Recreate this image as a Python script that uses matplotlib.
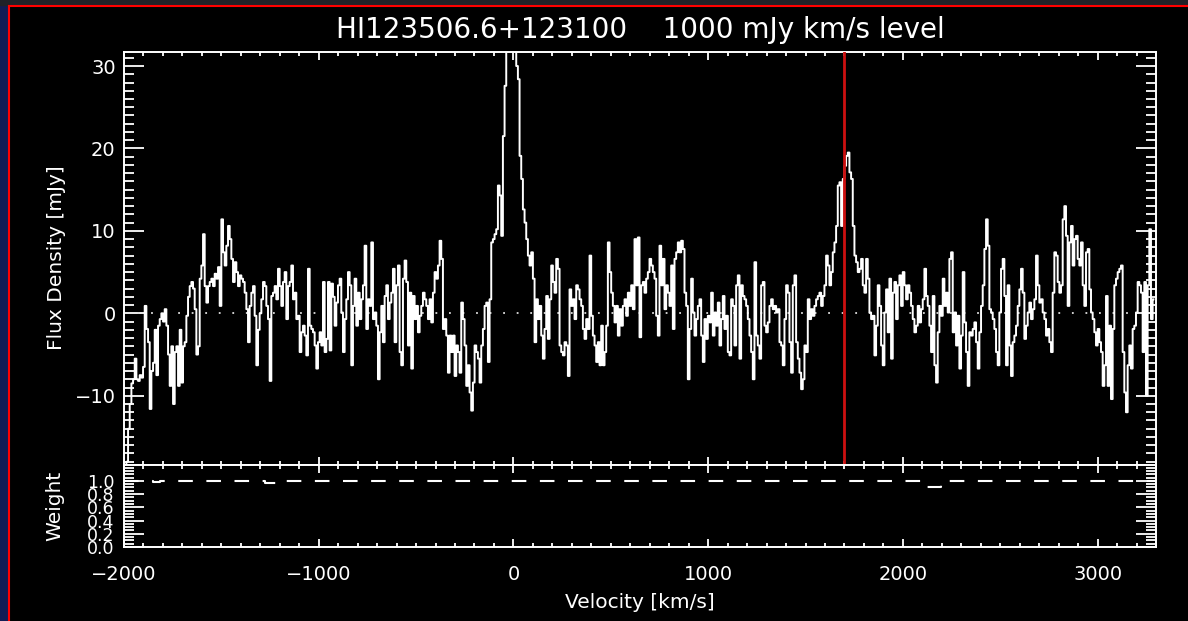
import numpy as np
import matplotlib
matplotlib.use('Agg')
import matplotlib.pyplot as plt
from matplotlib.ticker import MultipleLocator, FormatStrFormatter
from matplotlib.patches import Rectangle
from matplotlib.lines import Line2D

# spectrum (mJy)
flux = [
    -21, -18, -14, -11, -8.5, -8, -5.5, -8, -8.2, -7.5,
    -7.8, -6.5, 0.9, -1.9, -3.5, -11.6, -7, -6, -2, -7.5,
    -1.5, -0.7, 0, -1, 0.5, -1.5, -5, -8.8, -4, -11,
    -4.7, -4, -8.8, -2, -8.4, -4, -3.5, -0.3, 2, 3.3,
    3.8, 3, 0.5, -5, -4, 4.2, 5.8, 9.6, 3.3, 1.3,
    3.3, 3.8, 4.2, 3.3, 4.8, 4.2, 5.6, 0.9, 11.4, 7.4,
    5.8, 8.2, 10.6, 9, 6.6, 3.8, 6.2, 5, 3.3, 4.6,
    4.2, 3.8, 2.5, 0.5, -3.5, 0.9, 2.5, 3.3, -0.3, -6.3,
    -2, 0, 1.7, 3.8, 3.3, 0.9, -0.7, -8.2, 2.1, 2.5,
    3.3, 1.7, 5.4, 3.3, 0.9, 3.8, 5, -0.7, 3.3, 3.8,
    5.8, 1.7, 2.5, -0.7, -0.3, -4.7, -2.3, -1.5, -2.7, -5.1,
    5.4, -1.5, -1.9, -2.3, -3.9, -6.7, -3.5, -2.3, -3.9, 3.8,
    -4.7, -3.1, 3.8,
    -4.5, 3.6, 2.0, -1.5, 1.3, 3.4, 4.2, 0.1, -4.7, -0.7,
    1.7, 5, 3.4, -6.3, 0.9, 4.2, -1.5, 2.5, -0.7, 1.7,
    3.4, 8.2, -1.9, 1.7, 0.9, 8.6, -0.7, 0.1, -1.5, -8,
    -2.3, 0.9, -3.5, 2.1, 3.4, -0.7, 1.3, 2.5, 5.4, -3.5,
    3.4, 5.8, -4.7, -6.3, 4.2, 6.4, 3.8, -3.9, 2.5, -6.7,
    2.1, -0.7, 0.9, -2.3, -0.3, 0.9, 2.5, 1.7, 0.9, -0.7,
    1.7, -1.1, 2.5, 5, 4.2, 5.8, 8.8, 6.6, -1.9, -0.7,
    -2.7, -7.2, -2.7, -4.7, -2.7, -7.6, -3.9, -4.7, -7.2, 1.3,
    -0.7, -3.9, -8.8, -6.3, -9.6, -11.8, -8.4, -3.9, -4.7, -5.5,
    -8.4, -3.9, -1.9, 0.9, 1.3, -5.9, 1.7, 8.6, 9, 9.6,
    10.2, 15.5, 14.3, 9.4, 21.5, 27.6, 40, 50, 55, 52,
    42, 33, 30, 28.4, 19.1, 16.3, 12.6, 11, 9, 7,
    5.8, 7.4, 4.2, -3.5,
    1.7, -0.7, 0.9, -2.7, -5.5, -1.9, 2.1, -3.1, 1.7, 5.8,
    3.8, 2.5, 6.6, 5.4, -3.9, -4.7, -5.1, -3.5, -3.9, -7.6,
    2.9, 0.9, 1.7, -0.7, 3.4, 2.9, 1.7, 0.9, -1.9, -3.1,
    -0.7, -1.9, 7, -0.3, -2.7, -3.9, -5.9, -3.5, -6.3, -1.5,
    -6.3, -4.7, -1.5, 8.6, 5, 2.5, 0.9, -1.1, 0.9, -2.7,
    0.5, -1.5, 0.9, 1.7, -0.3, 2.5, 0.9, 3.4, 0.5, 9,
    3.4, 9.2, -2.9, 3.4, 3.8, 2.5, 4.2, 5, 6.6, 5.8,
    5, 4.2, -0.3, -2.7, 8.2, 3.4, 6.6, 0.5, 3.4, 2.5,
    0.9, 5.8, -1.9, 6.6, 7.4, 8.6, 7.4, 8.8, 7.8, 2.5,
    0.9, -8, -1.9, 4.2, 0.1, -2.7, -0.7, 0.9, 1.7, -2.7,
    -5.9, -0.7, -3.1, -0.3, -1.1, 2.5, -2.7, 0.1, -1.5, 1.3,
    -3.9, -0.7, 2.1, -1.9, -0.3, -4.7, -5.1, 1.7, 0.9, -3.9,
    3.4, 4.6, -5.5, 3.4,
    2.1, 1.7, 0.9, -0.7, -2.7, -4.7, -8, 6.2, -2.7, -3.9,
    -5.5, 3.4, 3.8, -1.5, -2.3, -1.1, 0.9, 1.7, 0.5, 0.9,
    0.1, 0.5, -3.5, -3.9, -6.3, -0.7, 3.4, 2.5, -3.5, -7.2,
    3.4, 4.6, -3.5, -5.5, -7.2, -9.2, -8, -3.9, -4.7, 1.7,
    -0.7, 0.5, -0.3, 0.9, 1.7, 2.1, 2.5, 0.9, 2.1, 3.4,
    7, 5.8, 3.4, 5, 7.4, 8.6, 10.6, 15.5, 15.9, 10.6,
    16.3, 17.9, 19.1, 19.5, 17.1, 16.3, 10.6, 7, 6.2, 5,
    5.4, 6.6, 3.4, 2.5, 6.6, 4.2, 0.1, -0.7, -0.3, -5.1,
    -1.5, 3.4, 0.9, -3.9, -6.3, 0.1, 2.9, -2.3, 4.2, -5.5,
    2.5, 3.8, -0.7, 3.4, 4.6, 0.9, 5, 3.4, 1.7, 3.4,
    2.5, 0.9, -0.7, -2.3, -1.5, 0.9, -1.1, 0.5, 1.7, 5.4,
    2.1, 0.9, -1.5, -4.7, 2.1, -6.3, -8.4, -2.3, 0.9, -0.3,
    4.2, 0.9, 2.5,
    0.1, 6.6, 7.4, -2.3, 0.1, -3.9, -0.3, -6.7, -2.7, 5,
    -1.1, -4.7, -8.8, -2.3, -2.7, -1.9, -1.1, -3.5, -6.7, -2.3,
    0.9, 3.4, 7.8, 11.4, 8.2, 0.5, 0.1, -0.7, -1.9, -4.7,
    -6.3, 0.1, 5.4, 6.6, 2.1, -6.3, 3.4, -3.9, -7.6, -3.5,
    -2.7, -1.5, 0.9, 2.9, 5.4, 2.5, -3.1, -1.5, 0.1, 1.3,
    -0.7, 0.5, 1.7, 7, 3.4, 1.3, 1.7, 0.1, -0.7, -2.7,
    -1.9, -3.5, -4.7, 2.5, 7.4, 7, 3.8, 2.5, 3.4, 11.4,
    13, 9.4, 0.9, 8.6, 10.6, 5.8, 9, 9.4, 6.6, 5.8,
    8.6, 3.4, 0.9, 7.4, 7.8, 2.9, 0.1, -0.7, -2.3, -3.9,
    -1.9, -3.5, -4.7, -8.8, -6.3, 2.1, -8.8, -1.5, -10.4, -1.9,
    3.4, 4.2, 5, 5.4, 5.8, -4.7, -9.6, -12, -6.3, -3.9,
    -6.7, -1.9, -1.5, 0.1, 3.8, 3.4, 2.5, -4.7, 3.8, -10,
    3.4, 10.2, -0.7, 1.7,
]
v_start = -1992.0   # km/s, first channel
chan_width = 8.556  # km/s
vel = v_start + chan_width * np.arange(len(flux))

# weight spectrum (breakpoints)
weight_vel = [-2000, -1850, -1815, -1275, -1210, 2118, 2195, 3300]
weight_val = [1.0, 0.98, 1.0, 0.965, 1.0, 0.9, 1.0, 1.0]
weight_ticks = [0.0, 0.2, 0.4, 0.6, 0.8, 1.0]

v_marker = 1700
title = 'HI123506.6+123100    1000 mJy km/s level'

W, H = 1188, 621
fig = plt.figure(figsize=(W / 100, H / 100), dpi=100, facecolor='black')

# bits of the screen around the plot window
fig.patches.append(Rectangle((0, 0), 8 / W, 1, transform=fig.transFigure,
                             color='#121c55', zorder=0))
fig.patches.append(Rectangle((0, 1 - 5 / H), 1, 5 / H, transform=fig.transFigure,
                             color='#202228', zorder=0))
fig.lines.append(Line2D([9 / W, 9 / W], [0, 1 - 5.5 / H], transform=fig.transFigure,
                        color='#ff0000', lw=1.5))
fig.lines.append(Line2D([9 / W, 1], [1 - 5.5 / H, 1 - 5.5 / H], transform=fig.transFigure,
                        color='#ff0000', lw=1.5))

x0, x1 = 124, 1156
ax = fig.add_axes([x0 / W, 1 - 465 / H, (x1 - x0) / W, (465 - 52) / H])
axw = fig.add_axes([x0 / W, 1 - 547 / H, (x1 - x0) / W, (547 - 465) / H], sharex=ax)

for a in (ax, axw):
    a.set_facecolor('black')
    for s in a.spines.values():
        s.set_color('white')
        s.set_linewidth(1.4)
    a.tick_params(which='both', direction='in', top=True, right=True,
                  colors='white', width=1.3, labelsize=14)
    a.tick_params(axis='x', which='major', length=5.8, pad=13)
    a.tick_params(axis='x', which='minor', length=2.9)
    a.tick_params(axis='y', which='major', length=14.4, pad=6)
    a.tick_params(axis='y', which='minor', length=7.2)
    a.xaxis.set_major_locator(MultipleLocator(1000))
    a.xaxis.set_minor_locator(MultipleLocator(100))

ax.plot(vel, flux, color='white', lw=1.4, drawstyle='steps-mid', zorder=3)
ax.axhline(0, color='#dddddd', lw=1.3, linestyle=(0, (1, 6.5)), zorder=2)
ax.axvline(v_marker, color='#cc1010', lw=2.0, zorder=4)
ax.set_xlim(-2000, 3300)
ax.set_ylim(-18.4, 31.7)
ax.yaxis.set_major_locator(MultipleLocator(10))
ax.yaxis.set_minor_locator(MultipleLocator(1))
ax.tick_params(axis='x', labelbottom=False)

axw.plot(weight_vel, weight_val, color='white', lw=1.5, drawstyle='steps-post',
         linestyle=(0, (7, 6.5)))
axw.set_ylim(0, 1.24)
axw.set_yticks(weight_ticks)
axw.yaxis.set_minor_locator(MultipleLocator(0.05))
axw.yaxis.set_major_formatter(FormatStrFormatter('%.1f'))
axw.tick_params(axis='y', labelsize=12.5, pad=7)

fig.text(640 / W, 1 - 30 / H, title, color='white', fontsize=20,
         ha='center', va='center')
fig.text(640 / W, 1 - 603 / H, 'Velocity [km/s]', color='white', fontsize=14.5,
         ha='center', va='center')
fig.text(57 / W, 1 - 258 / H, 'Flux Density [mJy]', color='white', fontsize=14.5,
         ha='center', va='center', rotation=90)
fig.text(55 / W, 1 - 506 / H, 'Weight', color='white', fontsize=14.5,
         ha='center', va='center', rotation=90)

plt.savefig('out.png', dpi=100, facecolor='black')
